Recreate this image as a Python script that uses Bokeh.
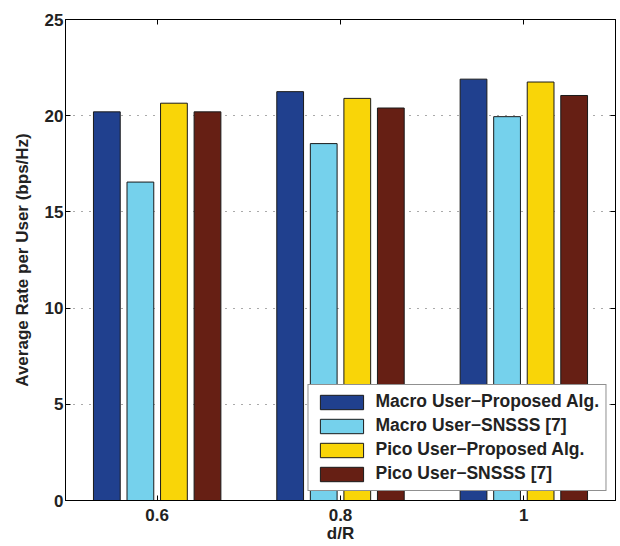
from bokeh.plotting import figure
from bokeh.models import ColumnDataSource, FactorRange, Range1d, LinearAxis, CategoricalAxis, FixedTicker
from bokeh.transform import dodge
from bokeh.embed import file_html
from bokeh.resources import INLINE

categories = ["0.6", "0.8", "1"]
macro_proposed = [20.2, 21.25, 21.9]
macro_snsss = [16.55, 18.55, 19.95]
pico_proposed = [20.65, 20.9, 21.75]
pico_snsss = [20.2, 20.4, 21.05]
series_names = ["Macro User\u2212Proposed Alg.", "Macro User\u2212SNSSS [7]",
                "Pico User\u2212Proposed Alg.", "Pico User\u2212SNSSS [7]"]
y_ticks = [0, 5, 10, 15, 20, 25]

colors = ["#20408E", "#75D1EC", "#F9D508", "#661F14"]
keys = ["mp", "ms", "pp", "ps"]
offsets = [-0.2745, -0.0915, 0.0915, 0.2745]

src = ColumnDataSource(dict(x=categories, mp=macro_proposed, ms=macro_snsss,
                            pp=pico_proposed, ps=pico_snsss))

FONT = "Liberation Sans"

p = figure(x_range=FactorRange(*categories, range_padding=0), y_range=Range1d(0, 25),
           width=618, height=545, output_backend="svg", toolbar_location=None,
           min_border_left=65, min_border_top=19, min_border_right=3, min_border_bottom=43)

for k, off, c, name in zip(keys, offsets, colors, series_names):
    p.vbar(x=dodge("x", off, range=p.x_range), top=k, width=0.146, source=src,
           fill_color=c, line_color="#1a1a1a", line_width=1, legend_label=name)

p.outline_line_color = "black"
p.outline_line_width = 1
p.background_fill_color = "white"

p.xgrid.grid_line_color = None
p.ygrid.grid_line_color = "#555555"
p.ygrid.grid_line_dash = "1 7"
p.ygrid.grid_line_width = 1
p.ygrid.ticker = FixedTicker(ticks=y_ticks)

for ax in [p.xaxis[0], p.yaxis[0]]:
    ax.major_tick_in = 5
    ax.major_tick_out = 0
    ax.minor_tick_line_color = None
    ax.axis_line_color = "black"
    ax.major_tick_line_color = "black"
    ax.major_label_text_font = FONT
    ax.major_label_text_font_style = "bold"
    ax.major_label_text_font_size = "17px"
    ax.major_label_text_color = "#222222"
    ax.axis_label_text_font = FONT
    ax.axis_label_text_font_style = "bold"
    ax.axis_label_text_font_size = "17px"
    ax.axis_label_text_color = "#222222"

p.yaxis.ticker = FixedTicker(ticks=y_ticks)
p.yaxis.axis_label = "Average Rate per User (bps/Hz)"
p.yaxis.axis_label_standoff = 10
p.yaxis.major_label_standoff = 2
p.xaxis.axis_label = "d/R"
p.xaxis.axis_label_standoff = 0
p.xaxis.major_label_standoff = 8

right = LinearAxis(ticker=FixedTicker(ticks=y_ticks), major_tick_in=5, major_tick_out=0,
                   minor_tick_line_color=None, major_label_text_font_size="1px",
                   major_label_text_color=None,
                   major_label_standoff=0, axis_line_color="black")
p.add_layout(right, "right")
top = CategoricalAxis(major_tick_in=5, major_tick_out=0, major_label_text_font_size="1px",
                      major_label_text_color=None,
                      major_label_standoff=0, axis_line_color="black")
p.add_layout(top, "above")

lg = p.legend[0]
lg.location = "bottom_right"
lg.margin = 9
lg.padding = 6
lg.spacing = 3
lg.glyph_width = 54
lg.glyph_height = 18
lg.label_height = 18
lg.label_standoff = 7
lg.label_text_font = FONT
lg.label_text_font_style = "bold"
lg.label_text_font_size = "17.5px"
lg.label_text_color = "#222222"
lg.border_line_color = "#222222"
lg.border_line_width = 1.5
lg.background_fill_color = "white"
lg.background_fill_alpha = 1

open("out.html", "w").write(file_html(p, INLINE))
